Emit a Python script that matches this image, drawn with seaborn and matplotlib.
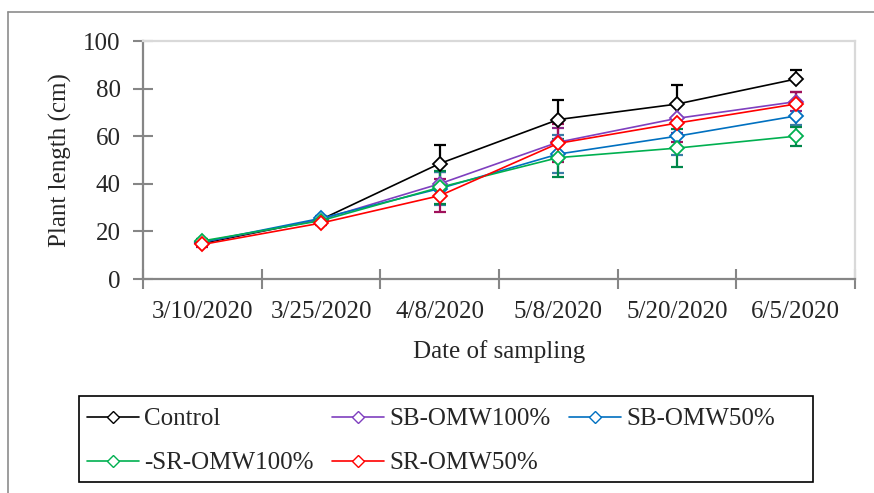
import matplotlib
matplotlib.use("Agg")
import matplotlib.pyplot as plt
from matplotlib.lines import Line2D
from matplotlib.patches import Rectangle
import seaborn as sns
import pandas as pd

# ---- data ----
dates = ["3/10/2020", "3/25/2020", "4/8/2020", "5/8/2020", "5/20/2020", "6/5/2020"]
series_names = ["Control", "SB-OMW100%", "SB-OMW50%", "-SR-OMW100%", "SR-OMW50%"]
control = [15.0, 25.0, 48.5, 67.0, 73.5, 84.0]
sb_omw100 = [15.5, 25.0, 40.0, 57.5, 67.5, 74.5]
sb_omw50 = [15.5, 25.5, 38.0, 52.5, 60.0, 68.5]
sr_omw100 = [16.0, 24.5, 38.5, 51.0, 55.0, 60.0]
sr_omw50 = [14.5, 23.5, 35.0, 57.0, 65.5, 73.5]
control_err = [1.0, 1.0, 8.0, 8.0, 8.0, 4.0]
sb_omw100_err = [1.0, 1.0, 5.0, 6.0, 6.0, 4.0]
sb_omw50_err = [1.0, 1.0, 7.0, 8.0, 8.0, 4.0]
sr_omw100_err = [1.0, 1.0, 7.0, 8.0, 8.0, 4.0]
sr_omw50_err = [1.0, 1.0, 7.0, 8.0, 8.0, 5.0]

values = [control, sb_omw100, sb_omw50, sr_omw100, sr_omw50]
errors = [control_err, sb_omw100_err, sb_omw50_err, sr_omw100_err, sr_omw50_err]
line_colors = ["#000000", "#7F3FBF", "#0070C0", "#00B050", "#FF0000"]
err_colors = ["#000000", "#8B2A8B", "#3A7CA5", "#00874A", "#A0105A"]

xpos = [i + 0.5 for i in range(len(dates))]
df = pd.DataFrame({
    "x": xpos * len(series_names),
    "value": [v for s in values for v in s],
    "series": [n for n in series_names for _ in dates],
})

sns.set_theme(style="white")
plt.rcParams["font.family"] = ["Liberation Serif", "DejaVu Serif"]
plt.rcParams["font.size"] = 18

W, H = 874, 493
fig = plt.figure(figsize=(W / 100, H / 100), dpi=100)
ax = fig.add_axes([143 / W, 1 - 279 / H, (855 - 143) / W, (279 - 41) / H])

handles = []
for i, name in enumerate(series_names):
    sub = df[df["series"] == name]
    ys = values[i]
    if i == 0:
        yerr = [[0] * len(ys), errors[i]]
    else:
        yerr = errors[i]
    ax.errorbar(xpos, ys, yerr=yerr, fmt="none", ecolor=err_colors[i],
                elinewidth=1.6, capsize=4.5, capthick=1.6, zorder=2)
    sns.lineplot(data=sub, x="x", y="value", ax=ax, color=line_colors[i],
                 marker="D", markersize=7.5, markerfacecolor="white",
                 markeredgecolor=line_colors[i], markeredgewidth=1.3,
                 linewidth=1.2, zorder=3, legend=False)
    handles.append(Line2D([], [], color=line_colors[i], marker="D", markersize=6.5,
                          markerfacecolor="white", markeredgecolor=line_colors[i],
                          markeredgewidth=1.0, linewidth=1.2))

ax.set_xlim(0, 6)
ax.set_ylim(0, 100)
ax.set_xticks(range(7))
ax.set_xticklabels([])
ax.set_xticks(xpos, minor=True)
ax.set_xticklabels(dates, minor=True)
ax.set_yticks(range(0, 101, 20))
ax.tick_params(axis="x", which="major", direction="inout", length=14, width=1.5,
               color="#868686", bottom=True)
ax.tick_params(axis="x", which="minor", length=0, pad=16, labelsize=18, bottom=True)
ax.tick_params(axis="y", which="major", direction="inout", length=14, width=1.5,
               color="#868686", pad=9, labelsize=18, left=True)
for s in ["left", "bottom"]:
    ax.spines[s].set_color("#868686")
    ax.spines[s].set_linewidth(1.6)
for s in ["top", "right"]:
    ax.spines[s].set_color("#D9D9D9")
    ax.spines[s].set_linewidth(1.6)
ax.grid(False)
ax.set_xlabel("Date of sampling", fontsize=18, labelpad=12)
ax.set_ylabel("Plant length (cm)", fontsize=18, labelpad=8)

# outer chart frame (cropped on right and bottom)
fig.add_artist(Line2D([8 / W, 8 / W], [-0.05, 1 - 12 / H], transform=fig.transFigure,
                      color="#8C8C8C", linewidth=1.2))
fig.add_artist(Line2D([8 / W, 1.05], [1 - 12 / H, 1 - 12 / H], transform=fig.transFigure,
                      color="#8C8C8C", linewidth=1.2))

# legend box
fig.add_artist(Rectangle((79 / W, 1 - 482 / H), (813 - 79) / W, (482 - 396) / H,
                         transform=fig.transFigure, fill=False, edgecolor="black",
                         linewidth=1.2))

# legend ordered row-wise
order = [0, 3, 1, 4, 2]
leg = fig.legend([handles[k] for k in order], [series_names[k] for k in order],
                 ncol=3, loc="center left",
                 bbox_to_anchor=(87 / W, 1 - 441 / H),
                 fontsize=18, frameon=False,
                 handlelength=2.08, handletextpad=0.2, labelspacing=0.86,
                 borderaxespad=0, borderpad=0, columnspacing=0.75)

fig.savefig("out.png", dpi=100)
